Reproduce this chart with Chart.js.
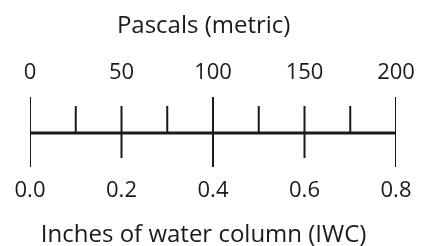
<!DOCTYPE html>
<html>
<head>
<meta charset="utf-8">
<script src="https://cdn.jsdelivr.net/npm/chart.js@4"></script>
<style>
  html, body { margin: 0; padding: 0; background: #fff; }
  #wrap { width: 423px; height: 246px; }
</style>
</head>
<body>
<div id="wrap"><canvas id="scale"></canvas></div>
<script>
// Pascals on top, inches of water column underneath
const pascalMarks = [0, 25, 50, 75, 100, 125, 150, 175, 200];
const pascalMajor = [0, 100, 200];
const iwcMarks    = [0, 0.2, 0.4, 0.6, 0.8];
const iwcMajor    = [0, 0.4, 0.8];
const pascalRange = [0, 200];
const iwcRange    = [0, 0.8];

// tick lengths in y units (y scale is set up so 1 unit ~ 1px)
const LONG_UP = 36, SHORT_UP = 27, LONG_DOWN = -34, SHORT_DOWN = -25;
const INK = '#1a1a1a';
// titles sit a bit left of the bar centre in the original, pad them on the right
const PAD_R = '\u00a0\u00a0\u00a0';

// build broken segments: one vertical stroke per mark, NaN in between
function tickSegments(marks, major, longLen, shortLen) {
  const pts = [];
  marks.forEach(v => {
    const len = major.includes(v) ? longLen : shortLen;
    pts.push({ x: v, y: 0 }, { x: v, y: len }, { x: v, y: NaN });
  });
  return pts;
}

const seg = (data, xAxisID, width) => ({
  data, xAxisID, showLine: true, borderColor: INK, borderWidth: width,
  pointRadius: 0, borderCapStyle: 'butt', spanGaps: false
});

const tickFont  = { family: 'Open Sans', size: 22, weight: '500' };
const titleFont = { family: 'Open Sans', size: 24, weight: '500', lineHeight: 1 };

new Chart(document.getElementById('scale'), {
  type: 'scatter',
  data: {
    datasets: [
      seg([{ x: pascalRange[0], y: 0 }, { x: pascalRange[1], y: 0 }], 'x', 3),
      seg(tickSegments(pascalMarks, pascalMajor, LONG_UP, SHORT_UP), 'x', 2),
      seg(tickSegments(iwcMarks, iwcMajor, LONG_DOWN, SHORT_DOWN), 'x2', 2)
    ]
  },
  options: {
    responsive: true,
    maintainAspectRatio: false,
    animation: false,
    layout: { padding: { left: 30, right: 27, top: 0, bottom: 0 } },
    plugins: { legend: { display: false }, tooltip: { enabled: false } },
    scales: {
      x: {
        type: 'linear', position: 'top',
        min: pascalRange[0], max: pascalRange[1],
        afterFit: s => { s.height = 88; },
        grid: { display: false, drawTicks: false }, border: { display: false },
        ticks: { stepSize: 50, padding: 2, color: '#1a1a1a', font: tickFont },
        title: { display: true, text: 'Pascals (metric)' + PAD_R, color: '#1a1a1a',
                 padding: { top: 14, bottom: 4 }, font: titleFont }
      },
      x2: {
        type: 'linear', position: 'bottom',
        min: iwcRange[0], max: iwcRange[1],
        afterFit: s => { s.height = 74; },
        grid: { display: false, drawTicks: false }, border: { display: false },
        ticks: { stepSize: 0.2, padding: 6, color: '#1a1a1a', font: tickFont,
                 callback: v => v.toFixed(1) },
        title: { display: true, text: 'Inches of water column (IWC)' + PAD_R, color: '#1a1a1a',
                 padding: { top: 4, bottom: -1 }, font: titleFont }
      },
      y: { display: false, min: -39, max: 45 }
    }
  }
});
</script>
</body>
</html>
